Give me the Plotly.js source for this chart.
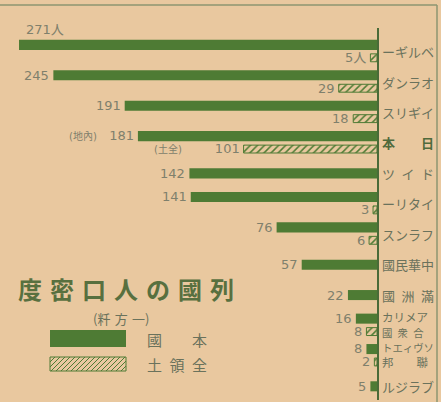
<!DOCTYPE html>
<html><head><meta charset="utf-8">
<script src="https://cdn.plot.ly/plotly-3.0.1.min.js"></script>
<style>html,body{margin:0;padding:0;background:#e9c89f;}</style>
</head><body><div id="chart" style="width:441px;height:402px;"></div>
<script>
// ---- data ----
const categories = ["ベルギー","オランダ","イギリス","日本","ドイツ","イタリー","フランス","中華民國","滿洲國","アメリカ合衆國","ソヴィエト聯邦","ブラジル"];
const labelLines = [["ーギルベ"],["ダンラオ"],["スリギイ"],["<b>本\u3000\u3000日</b>"],["ツ\u2002イ\u2002ド"],["ーリタイ"],["スンラフ"],["國民華中"],["國\u2002洲\u2002滿"],["カリメア","國\u2002衆\u2002合"],["トエィヴソ","邦\u3000\u3000聯"],["ルジラブ"]];
const homeValues = [271,245,191,181,142,141,76,57,22,16,8,5];
const territoryValues = [5,29,18,101,null,3,6,null,null,8,2,null];
const homeNotes = ["","","","(地內)","","","","","","","",""];
const territoryNotes = ["","","","(土全)","","","","","","","",""];
const unitMark = "人";
const titleText = "度\u2004密\u2004口\u2004人\u2004の\u2004國\u2004列";
const unitText = "(粁\u2004方\u2004一)";
const legendHome = "國\u3000\u3000本";
const legendTerritory = "土\u2002領\u2002全";

// ---- styling ----
const W = 441, H = 402, M = {l:0, r:64, t:28, b:2};
const plotW = W - M.l - M.r, plotH = H - M.t - M.b;
const px = x => (x - M.l) / plotW;
const py = y => (H - M.b - y) / plotH;
const GREEN = "#4e7b34", BG = "#e9c89f", NUM = "#7f806c", LAB = "#6a725c";
const numFont = {family: "DejaVu Sans, Noto Sans CJK JP", size: 13, color: NUM};
const cjk = "Noto Sans CJK JP";

const hasTerr = territoryValues.map(v => v !== null);
const homeTrace = {
  type: "bar", orientation: "h", x: homeValues, y: categories,
  width: hasTerr.map(() => 0.33),
  offset: hasTerr.map(t => t ? -0.39 : -0.165),
  marker: {color: GREEN, line: {width: 0}}, hoverinfo: "skip"
};
const terrTrace = {
  type: "bar", orientation: "h", x: territoryValues, y: categories,
  width: hasTerr.map(() => 0.26), offset: hasTerr.map(() => 0.07),
  marker: {color: BG, line: {color: GREEN, width: 1},
    pattern: {shape: "/", fgcolor: GREEN, bgcolor: BG, size: 5, solidity: 0.3}},
  hoverinfo: "skip"
};

const annotations = [];
const nb = n => "\u00a0".repeat(n);
homeValues.forEach((v, i) => {
  let t = String(v) + (i === 0 ? unitMark : "");
  if (homeNotes[i]) t = `<span style="font-size:10px">${homeNotes[i]}</span>${nb(3)}${t}`;
  const above = v > 260;
  annotations.push({x: v, y: categories[i], xref: "x", yref: "y", text: t, showarrow: false,
    xanchor: above ? "left" : "right", xshift: above ? 5 : -2,
    yshift: above ? 22 : (hasTerr[i] ? 7 : 0), font: numFont});
});
territoryValues.forEach((v, i) => {
  if (v === null) return;
  let t = String(v) + (i === 0 ? unitMark : "");
  if (territoryNotes[i]) t = `<span style="font-size:10px">${territoryNotes[i]}</span>${nb(8)}${t}`;
  annotations.push({x: v, y: categories[i], xref: "x", yref: "y", text: t, showarrow: false,
    xanchor: "right", xshift: -2, yshift: -6, font: numFont});
});
labelLines.forEach((lines, i) => {
  const two = lines.length > 1;
  let text;
  if (two) {
    text = lines.map(ln => {
      const s = Math.min(11.5, 52 / ln.length);
      return `<span style="font-size:${s.toFixed(1)}px">${ln}</span>`;
    }).join("<br>");
  } else {
    text = lines[0];
  }
  annotations.push({x: 1, xref: "paper", y: categories[i], yref: "y", text: text, showarrow: false,
    xanchor: "left", xshift: 3, yshift: two ? 1 : 0, align: "left",
    font: {family: cjk, size: two ? 11.5 : 13, color: i === 3 ? "#4f6a3c" : LAB}});
});
annotations.push({x: px(126), y: py(288), xref: "paper", yref: "paper", text: titleText, showarrow: false,
  xanchor: "center", yanchor: "middle", font: {family: cjk, size: 24, color: "#58703f", weight: 700}});
annotations.push({x: px(121), y: py(318), xref: "paper", yref: "paper", text: unitText, showarrow: false,
  xanchor: "center", yanchor: "middle", font: {family: cjk, size: 13, color: LAB}});
annotations.push({x: px(145), y: py(339), xref: "paper", yref: "paper", text: legendHome, showarrow: false,
  xanchor: "left", yanchor: "middle", font: {family: cjk, size: 15, color: LAB}});
annotations.push({x: px(145), y: py(364), xref: "paper", yref: "paper", text: legendTerritory, showarrow: false,
  xanchor: "left", yanchor: "middle", font: {family: cjk, size: 15, color: LAB}});

// legend swatches and frame
const shapes = [
  {type: "line", xref: "paper", yref: "paper", x0: px(0), x1: px(437), y0: py(5), y1: py(5), line: {color: "#8c9670", width: 1.5}},
  {type: "line", xref: "paper", yref: "paper", x0: px(437), x1: px(437), y0: py(5), y1: py(402), line: {color: "#8c9670", width: 1.5}},
  {type: "rect", xref: "paper", yref: "paper", x0: px(50), x1: px(126), y0: py(347), y1: py(330), fillcolor: GREEN, line: {width: 0}},
  {type: "rect", xref: "paper", yref: "paper", x0: px(50), x1: px(126), y0: py(371), y1: py(357), fillcolor: "rgba(0,0,0,0)", line: {color: GREEN, width: 1}}
];
let hatch = "";
const hx0 = 50, hx1 = 126, hy0 = 357, hy1 = 371, hh = hy1 - hy0;
for (let k = hx0 - hh; k < hx1; k += 5) {
  const t0 = Math.max(0, hx0 - k), t1 = Math.min(hh, hx1 - k);
  if (t1 <= t0) continue;
  hatch += `M${px(k + t0)},${py(hy1 - t0)} L${px(k + t1)},${py(hy1 - t1)} `;
}
shapes.push({type: "path", xref: "paper", yref: "paper", path: hatch, line: {color: GREEN, width: 1}});

const layout = {
  width: W, height: H, margin: M, paper_bgcolor: BG, plot_bgcolor: "rgba(0,0,0,0)",
  barmode: "overlay", showlegend: false,
  xaxis: {range: [285.4, 0], visible: false, fixedrange: true},
  yaxis: {type: "category", categoryorder: "array", categoryarray: categories,
    range: [11.45, -0.78], side: "right", showticklabels: false, showgrid: false, zeroline: false,
    showline: true, linecolor: "#4a6b38", linewidth: 2, ticks: "", fixedrange: true},
  annotations, shapes
};
Plotly.newPlot("chart", [homeTrace, terrTrace], layout, {displayModeBar: false, staticPlot: true});
</script></body></html>
